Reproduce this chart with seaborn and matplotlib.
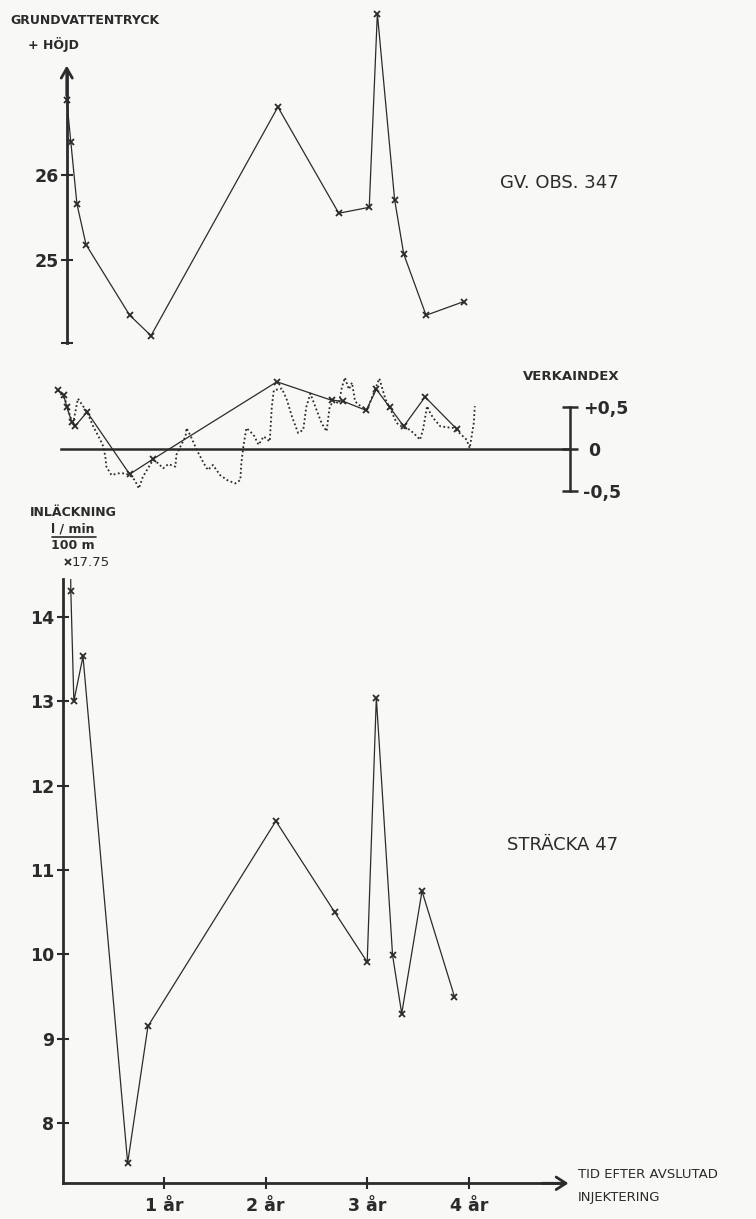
import seaborn as sns
import matplotlib.pyplot as plt
from matplotlib.lines import Line2D
import matplotlib.transforms as mtransforms

""" 0. data read off the drawing (time in years after grouting) """
# groundwater pressure level, obs. well 347
gv_t = [0.04, 0.08, 0.14, 0.23, 0.66, 0.87, 2.12, 2.72, 3.02, 3.10, 3.27, 3.36, 3.58, 3.95]
gv_h = [26.88, 26.39, 25.66, 25.18, 24.35, 24.11, 26.80, 25.55, 25.62, 27.90, 25.71, 25.07, 24.35, 24.51]

# efficiency index at the observation dates (solid)
vi_t = [-0.05, 0.01, 0.04, 0.09, 0.12, 0.24, 0.66, 0.89, 2.11, 2.65, 2.76, 2.99, 3.09, 3.22, 3.36, 3.57, 3.88]
vi_v = [0.70, 0.64, 0.50, 0.32, 0.27, 0.44, -0.30, -0.12, 0.80, 0.58, 0.57, 0.46, 0.71, 0.50, 0.27, 0.62, 0.24]

# efficiency index, continuous record (dotted)
vd_t = [-0.05, 0.02, 0.10, 0.15, 0.24, 0.30, 0.37, 0.40, 0.42, 0.43, 0.48, 0.55, 0.61, 0.66,
        0.71, 0.75, 0.79, 0.86, 0.89, 0.94, 0.99, 1.04, 1.11, 1.12, 1.16, 1.21, 1.22, 1.27,
        1.32, 1.39, 1.43, 1.48, 1.55, 1.62, 1.70, 1.75, 1.76, 1.78, 1.81, 1.88, 1.93, 1.98,
        2.04, 2.06, 2.08, 2.16, 2.21, 2.26, 2.32, 2.37, 2.40, 2.44, 2.49, 2.55, 2.60, 2.63,
        2.67, 2.72, 2.75, 2.78, 2.82, 2.85, 2.88, 2.91, 3.00, 3.04, 3.12, 3.18, 3.23, 3.29,
        3.36, 3.42, 3.49, 3.52, 3.55, 3.59, 3.62, 3.65, 3.72, 3.78, 3.85, 3.91, 3.98, 4.01,
        4.05, 4.06]
vd_v = [0.70, 0.60, 0.29, 0.60, 0.44, 0.27, 0.11, 0.03, -0.09, -0.21, -0.31, -0.29, -0.29, -0.31,
        -0.37, -0.47, -0.33, -0.19, -0.13, -0.17, -0.23, -0.18, -0.21, -0.07, 0.03, 0.15, 0.25, 0.13,
        -0.01, -0.17, -0.25, -0.19, -0.31, -0.37, -0.41, -0.37, -0.17, 0.03, 0.25, 0.17, 0.05, 0.15,
        0.09, 0.50, 0.70, 0.72, 0.58, 0.38, 0.19, 0.23, 0.50, 0.66, 0.50, 0.31, 0.21, 0.50,
        0.58, 0.54, 0.73, 0.85, 0.71, 0.79, 0.57, 0.53, 0.47, 0.59, 0.84, 0.59, 0.47, 0.31,
        0.25, 0.23, 0.15, 0.11, 0.23, 0.51, 0.43, 0.37, 0.27, 0.26, 0.25, 0.19, 0.11, 0.01,
        0.31, 0.51]

# leakage l/min per 100 m, section 47
lk_t = [0.05, 0.08, 0.11, 0.20, 0.64, 0.84, 2.10, 2.68, 3.00, 3.09, 3.25, 3.34, 3.54, 3.86]
lk_q = [17.75, 14.31, 13.00, 13.53, 7.53, 9.15, 11.58, 10.50, 9.91, 13.04, 9.99, 9.30, 10.75, 9.50]

yr_ticks = [1, 2, 3, 4]
yr_labels = ["1 år", "2 år", "3 år", "4 år"]

""" 1. figure layout in pixels """
sns.set_style("white")
plt.rcParams['font.family'] = ['DejaVu Sans']
ink = '#2b2b2b'
paper = '#f8f8f6'
W, H = 756, 1219
fig = plt.figure(figsize=(W / 100, H / 100), dpi=100, facecolor=paper)

# same time scale for the three panels: t=0 at x=62.7 px, 1 year = 101.5 px
T0, TMAX = -0.1, 5.2
L = 62.7 + T0 * 101.5
R = 62.7 + TMAX * 101.5


def px_axes(top, bottom):
    a = fig.add_axes([L / W, 1 - bottom / H, (R - L) / W, (bottom - top) / H])
    a.set_facecolor('none')
    a.set_xlim(T0, TMAX)
    return a


def ftext(x, y, s, **kw):
    kw.setdefault('color', ink)
    kw.setdefault('va', 'center')
    fig.text(x / W, 1 - y / H, s, **kw)


line_kw = dict(color=ink, lw=0.9, marker='x', markersize=5, markeredgewidth=1.3,
               markeredgecolor=ink, sort=False, estimator=None)

""" 2. groundwater level """
ax1 = px_axes(5, 343.3)
sns.lineplot(x=gv_t, y=gv_h, ax=ax1, **line_kw)
ax1.set_ylim(24.02, 28.0)
for s in ['top', 'right', 'bottom']:
    ax1.spines[s].set_visible(False)
ax1.spines['left'].set_position(('data', 0.04))
ax1.spines['left'].set_bounds(24.02, 27.2)
ax1.spines['left'].set_linewidth(2)
ax1.spines['left'].set_color(ink)
ax1.annotate('', xy=(0.04, 27.32), xytext=(0.04, 26.9),
             arrowprops=dict(arrowstyle='->,head_length=0.7,head_width=0.4', lw=2, color=ink))
ax1.set_xticks([])
ax1.set_yticks([25, 26])
ax1.set_yticks([24.02], minor=True)
ax1.tick_params(axis='y', which='both', direction='inout', length=8, width=1.5, color=ink,
                labelsize=12.5, labelcolor=ink, pad=2, left=True)
for lab in ax1.get_yticklabels():
    lab.set_fontweight('bold')
ax1.set_xlabel('')
ax1.set_ylabel('')

""" 3. efficiency index """
ax2 = px_axes(365, 499.4)
sns.lineplot(x=vd_t, y=vd_v, ax=ax2, color=ink, lw=1.3, linestyle=(0, (1, 1.4)),
             sort=False, estimator=None)
sns.lineplot(x=vi_t, y=vi_v, ax=ax2, **line_kw)
ax2.set_ylim(-0.6, 1.0)
for s in ['top', 'left']:
    ax2.spines[s].set_visible(False)
ax2.spines['bottom'].set_position(('data', 0))
ax2.spines['bottom'].set_bounds(-0.02, 5.0)
ax2.spines['right'].set_position(('data', 5.0))
ax2.spines['right'].set_bounds(-0.5, 0.5)
for s in ['bottom', 'right']:
    ax2.spines[s].set_linewidth(1.8)
    ax2.spines[s].set_color(ink)
ax2.set_xticks([])
ax2.yaxis.tick_right()
ax2.set_yticks([-0.5, 0, 0.5])
ax2.set_yticklabels(['-0,5', ' 0', '+0,5'])
ax2.tick_params(axis='y', direction='inout', length=12, width=1.8, color=ink,
                labelsize=12.5, labelcolor=ink, pad=3, right=True, left=False)
for lab in ax2.get_yticklabels():
    lab.set_fontweight('bold')
ax2.set_xlabel('')
ax2.set_ylabel('')

""" 4. leakage """
ax3 = px_axes(578.7, 1183.3)
sns.lineplot(x=lk_t, y=lk_q, ax=ax3, **line_kw)
ax3.set_ylim(7.29, 14.45)
for s in ['top', 'right']:
    ax3.spines[s].set_visible(False)
ax3.spines['left'].set_position(('data', 0))
ax3.spines['left'].set_bounds(7.29, 14.45)
ax3.spines['bottom'].set_bounds(0, 4.9)
for s in ['left', 'bottom']:
    ax3.spines[s].set_linewidth(2)
    ax3.spines[s].set_color(ink)
ax3.annotate('', xy=(5.01, 7.29), xytext=(4.7, 7.29), annotation_clip=False,
             arrowprops=dict(arrowstyle='->,head_length=0.7,head_width=0.45', lw=2, color=ink))
ax3.set_yticks(range(8, 15))
ax3.set_xticks(yr_ticks)
ax3.set_xticklabels(yr_labels)
ax3.tick_params(direction='inout', length=8, width=1.5, color=ink, labelsize=12.5,
                labelcolor=ink, left=True, bottom=True)
ax3.tick_params(axis='y', pad=2)
ax3.tick_params(axis='x', pad=6)
for lab in ax3.get_xticklabels() + ax3.get_yticklabels():
    lab.set_fontweight('bold')
ax3.set_xlabel('')
ax3.set_ylabel('')

# the first value is off the scale: mark it above the axis with its value
over = mtransforms.blended_transform_factory(ax3.transData, ax3.transAxes)
ax3.plot([lk_t[0]], [1.027], transform=over, marker='x', color=ink, markersize=5,
         markeredgewidth=1.3, clip_on=False)
ax3.text(lk_t[0] + 0.04, 1.027, f"{lk_q[0]:.2f}", transform=over, color=ink,
         fontsize=9.5, va='center', ha='left')

""" 5. labels """
ftext(10, 20, 'GRUNDVATTENTRYCK', fontsize=9, fontweight='bold')
ftext(28, 45, '+ HÖJD', fontsize=9, fontweight='bold')
ftext(500, 183, 'GV. OBS. 347', fontsize=13)
ftext(523, 377, 'VERKAINDEX', fontsize=9.5, fontweight='bold')
ftext(30, 512, 'INLÄCKNING', fontsize=9, fontweight='bold')
ftext(73, 529, 'l / min', fontsize=9, fontweight='bold', ha='center')
fig.add_artist(Line2D([52 / W, 96 / W], [1 - 537 / H, 1 - 537 / H], color=ink, lw=1.2))
ftext(73, 546, '100 m', fontsize=9, fontweight='bold', ha='center')
ftext(507, 845, 'STRÄCKA 47', fontsize=13)
ftext(578, 1175, 'TID EFTER AVSLUTAD', fontsize=9.5)
ftext(578, 1198, 'INJEKTERING', fontsize=9.5)

plt.savefig('out.png', dpi=100, facecolor=paper)
